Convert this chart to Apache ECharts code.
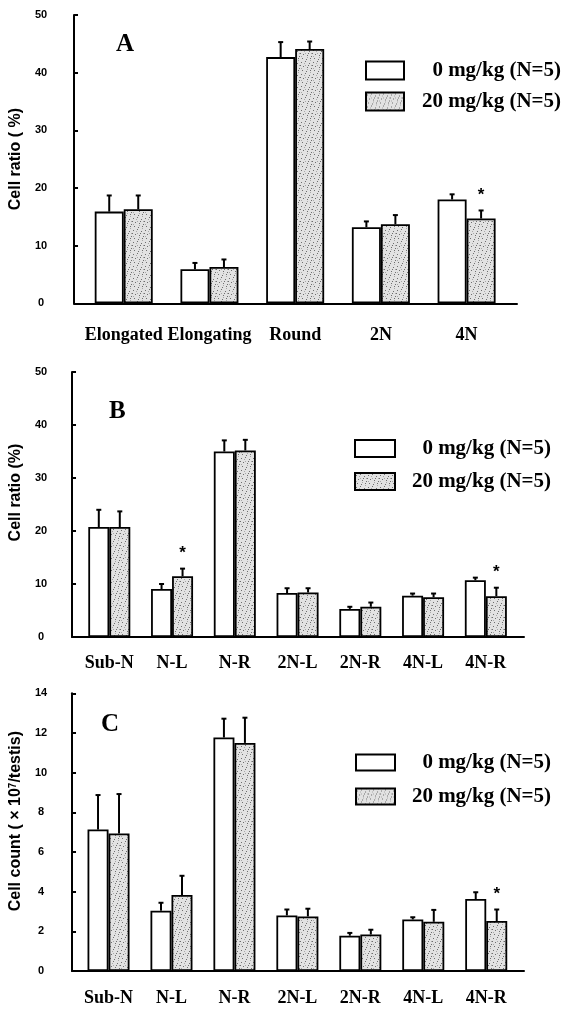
<!DOCTYPE html>
<html>
<head>
<meta charset="utf-8">
<script src="https://cdn.jsdelivr.net/npm/echarts@6/dist/echarts.min.js"></script>
<style>
html,body{margin:0;padding:0;background:#fff;}
#chart{width:562px;height:1011px;}
</style>
</head>
<body>
<div id="chart"></div>
<script>
// ---------- DATA ----------
const seriesNames = ['0 mg/kg (N=5)', '20 mg/kg (N=5)'];

// Panel A
const catsA = ['Elongated', 'Elongating', 'Round', '2N', '4N'];
const a0 = [15.9, 5.9, 42.7, 13.2, 18.0];
const a0sd = [2.8, 1.1, 2.6, 1.0, 0.9];
const a20 = [16.3, 6.3, 44.1, 13.7, 14.7];
const a20sd = [2.4, 1.3, 1.3, 1.6, 1.4];
const starsA = [0, 0, 0, 0, 1];
const ticksA = [0, 50, 10];

// Panel B
const catsB = ['Sub-N', 'N-L', 'N-R', '2N-L', '2N-R', '4N-L', '4N-R'];
const b0 = [20.75, 9.06, 35.0, 8.3, 5.3, 7.8, 10.7];
const b0sd = [3.25, 0.94, 2.1, 0.9, 0.4, 0.4, 0.5];
const b20 = [20.75, 11.45, 35.2, 8.4, 5.7, 7.5, 7.7];
const b20sd = [2.95, 1.45, 2.0, 0.8, 0.8, 0.7, 1.6];
const starsB = [0, 1, 0, 0, 0, 0, 1];
const ticksB = [0, 50, 10];

// Panel C
const catsC = ['Sub-N', 'N-L', 'N-R', '2N-L', '2N-R', '4N-L', '4N-R'];
const c0 = [7.13, 3.04, 11.77, 2.8, 1.78, 2.6, 3.63];
const c0sd = [1.74, 0.4, 0.95, 0.3, 0.14, 0.11, 0.34];
const c20 = [6.93, 3.83, 11.5, 2.75, 1.84, 2.48, 2.52];
const c20sd = [1.99, 0.97, 1.27, 0.39, 0.24, 0.6, 0.58];
const starsC = [0, 0, 0, 0, 0, 0, 1];
const ticksC = [0, 14, 2];

// ---------- STYLE ----------
const SANS = 'Liberation Sans';
const SERIF = 'Liberation Serif';

function makePattern() {
  const c = document.createElement('canvas');
  c.width = 12; c.height = 12;
  const g = c.getContext('2d');
  g.fillStyle = '#e2e2e2';
  g.fillRect(0, 0, 12, 12);
  g.fillStyle = '#6e6e6e';
  const dots = [[1,2],[5,1],[9,3],[3,6],[7,7],[11,8],[2,10],[6,11],[10,10],[0,5],[8,5]];
  dots.forEach(d => g.fillRect(d[0], d[1], 1, 1));
  g.fillStyle = '#a8a8a8';
  [[4,3],[10,0],[1,8],[7,9],[11,5],[5,5]].forEach(d => g.fillRect(d[0], d[1], 1, 1));
  return c;
}
const grayFill = { image: makePattern(), repeat: 'repeat' };
const fills = ['#ffffff', grayFill];

const panels = [
  { letter: 'A', cats: catsA, m: [a0, a20], sd: [a0sd, a20sd], stars: starsA, ticks: ticksA,
    yname: 'Cell ratio ( %)', grid: { left: 69, top: 15, width: 448, height: 288.3 },
    xmin: -0.58, xmax: 4.588, bw: 29, nameGap: 41, namePad: [0, 0, 0, 0], xMargin: 23, yMargin: 33,
    title: { left: 116, top: 32 }, legend: { left: 365, top: 60, w: 38, h: 18, gap: 10, tw: 152 } },
  { letter: 'B', cats: catsB, m: [b0, b20], sd: [b0sd, b20sd], stars: starsB, ticks: ticksB,
    yname: 'Cell ratio (%)', grid: { left: 71.7, top: 372, width: 452.3, height: 265 },
    xmin: -0.594, xmax: 6.608, bw: 21, nameGap: 45, namePad: [0, 0, 0, 24], xMargin: 17, yMargin: 31,
    title: { left: 109, top: 399 }, legend: { left: 354, top: 438, w: 40, h: 17, gap: 12, tw: 151 } },
  { letter: 'C', cats: catsC, m: [c0, c20], sd: [c0sd, c20sd], stars: starsC, ticks: ticksC,
    yname: 'Cell count ( × 10{sup|7}/testis)', grid: { left: 71.7, top: 693.3, width: 452.3, height: 277.7 },
    xmin: -0.58, xmax: 6.6, bw: 21, nameGap: 38, namePad: [0, 0, 0, 22], xMargin: 18, yMargin: 31,
    title: { left: 101, top: 712 }, legend: { left: 355, top: 752, w: 39, h: 16, gap: 13, tw: 151 } }
];

const option = {
  animation: false,
  backgroundColor: '#fff',
  textStyle: { fontFamily: SANS },
  title: [], grid: [], xAxis: [], yAxis: [], legend: [], series: []
};

panels.forEach((p, gi) => {
  option.grid.push(Object.assign({ containLabel: false }, p.grid));
  option.title.push({
    text: p.letter, left: p.title.left, top: p.title.top, padding: 0,
    textStyle: { fontFamily: SERIF, fontSize: 25, fontWeight: 'bold', color: '#000' }
  });
  option.xAxis.push({
    type: 'value', gridIndex: gi, min: p.xmin, max: p.xmax, minInterval: 1, maxInterval: 1,
    axisLine: { show: true, onZero: false, lineStyle: { color: '#000', width: 2 } },
    axisTick: { show: false }, splitLine: { show: false },
    axisLabel: {
      margin: p.xMargin, color: '#000', fontFamily: SERIF, fontSize: 18, fontWeight: 'bold',
      formatter: v => {
        const r = Math.round(v);
        return (Math.abs(v - r) < 1e-6 && p.cats[r] !== undefined) ? p.cats[r] : '';
      }
    }
  });
  option.yAxis.push({
    type: 'value', gridIndex: gi, min: p.ticks[0], max: p.ticks[1], interval: p.ticks[2],
    axisLine: { show: true, onZero: false, lineStyle: { color: '#000', width: 2 } },
    axisTick: { show: true, inside: true, length: 4, lineStyle: { color: '#000', width: 2 } },
    splitLine: { show: false },
    axisLabel: { margin: p.yMargin, align: 'center', color: '#000', fontFamily: SANS, fontSize: 11, fontWeight: 'bold' },
    name: p.yname, nameLocation: 'middle', nameGap: p.nameGap,
    nameTextStyle: {
      fontFamily: SANS, fontSize: 16, fontWeight: 'bold', color: '#000', padding: p.namePad,
      rich: { sup: { fontFamily: SANS, fontSize: 10, fontWeight: 'bold', color: '#000', verticalAlign: 'top' } }
    }
  });
  option.legend.push({
    left: p.legend.left, top: p.legend.top, orient: 'vertical', padding: 0,
    itemWidth: p.legend.w, itemHeight: p.legend.h, itemGap: p.legend.gap, selectedMode: false,
    data: seriesNames.map((n, k) => ({ name: n, icon: 'rect',
      itemStyle: { color: fills[k], borderColor: '#000', borderWidth: 2 } })),
    formatter: n => '{t|' + n + '}',
    textStyle: { rich: { t: { width: p.legend.tw, align: 'right', fontFamily: SERIF, fontSize: 21,
      fontWeight: 'bold', color: '#000', lineHeight: p.legend.h } } }
  });
  // bars
  [0, 1].forEach(k => {
    option.series.push({
      type: 'bar', name: seriesNames[k], xAxisIndex: gi, yAxisIndex: gi,
      barWidth: p.bw, barGap: '0%',
      itemStyle: { color: fills[k], borderColor: '#000', borderWidth: 1.8 },
      data: p.m[k].map((v, i) => [i, v])
    });
  });
  // error bars (+ significance stars on the 20 mg/kg series)
  [0, 1].forEach(k => {
    const side = k === 0 ? -1 : 1;
    const bw = p.bw;
    option.series.push({
      type: 'custom', xAxisIndex: gi, yAxisIndex: gi, clip: false, z: 3,
      encode: { x: 0, y: [1, 2] },
      data: p.m[k].map((v, i) => [i, v, v + p.sd[k][i], k === 1 ? p.stars[i] : 0]),
      renderItem: (params, api) => {
        const x = api.value(0);
        const p0 = api.coord([x, api.value(1)]);
        const p1 = api.coord([x, api.value(2)]);
        const cx = p0[0] + side * bw / 2;
        const children = [
          { type: 'line', shape: { x1: cx, y1: p0[1], x2: cx, y2: p1[1] }, style: { stroke: '#000', lineWidth: 2 } },
          { type: 'line', shape: { x1: cx - 2.5, y1: p1[1], x2: cx + 2.5, y2: p1[1] }, style: { stroke: '#000', lineWidth: 2 } }
        ];
        if (api.value(3) === 1) {
          children.push({ type: 'text', x: cx, y: p1[1] - 15,
            style: { text: '*', fontFamily: SANS, fontSize: 17, fontWeight: 'bold', fill: '#000', align: 'center', verticalAlign: 'middle' } });
        }
        return { type: 'group', children: children };
      }
    });
  });
});

const chart = echarts.init(document.getElementById('chart'), null, { renderer: 'canvas' });
chart.setOption(option);
</script>
</body>
</html>
